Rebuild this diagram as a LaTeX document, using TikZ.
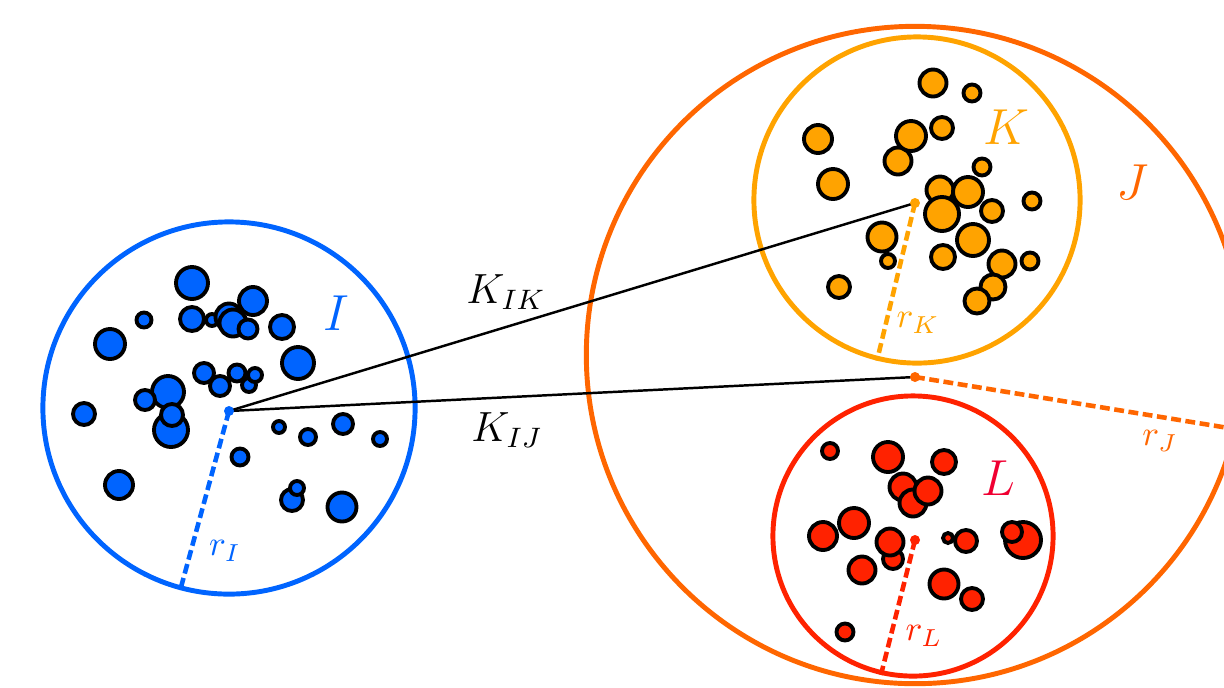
\documentclass[tikz,border=0pt]{standalone}
\usepackage{amsmath}
\usepackage{tikz}
\usetikzlibrary{positioning}
\definecolor{clusterblue}  {RGB}{0, 100, 255}
\definecolor{clusteramber} {RGB}{255, 163, 0}
\definecolor{clusterorange}{RGB}{255, 102, 0}
\definecolor{clusterred}   {RGB}{255, 34, 0}
\definecolor{clustercrimson}{RGB}{240, 0, 50}
\tikzset{
	cluster/.style={circle, line width=1.4pt, inner sep=0pt},
	grain/.style={draw=black, line width=1.1pt},
	cdot/.style={circle, inner sep=0pt, minimum size=0.08cm},
	radius line/.style={line width=1.3pt, dash pattern=on 2.8pt off 1.3pt},
	link/.style={line width=0.7pt, black}
}

\begin{document}
\begin{tikzpicture}[x=0.01cm, y=-0.01cm]
	\useasboundingbox (0,0) rectangle (1224,687);
	\node[cluster, draw=clusterblue, minimum size=3.72cm] (I) at (229,408) {};
	\node[cluster, draw=clusterorange, minimum size=6.57cm] (J) at (915,355) {};
	\node[cluster, draw=clusteramber, minimum size=3.26cm] (K) at (917,200) {};
	\node[cluster, draw=clusterred, minimum size=2.80cm] (L) at (913,536) {};
	\foreach \x/\y/\r in {192/283/16, 144/320/7.5, 110/344/15, 192/319/12, 212/320/6,
		229/317/13.5, 233/323/13.5, 253/301/14, 248/329/9.5, 282/327/12, 298/363/16,
		204/373/10, 237/373/8.5, 220/386/10, 249/385/7, 255/375/7, 168/392/16,
		145/400/10, 171/430/17, 172/415/11, 84/414/11, 279/427/6, 308/437/8,
		343/424/10, 380/439/7, 240/457/8.5, 119/485/14, 292/500/11, 297/488/7,
		342/507/14.5}
		\draw[grain, fill=clusterblue] (\x,\y) circle (\r);
	\foreach \x/\y/\r in {933/83/13.5, 972/93/8.5, 818/139/14, 898/161/13.5,
		911/136/15, 942/128/11, 833/184/15, 982/167/8.5, 940/190/13.5, 968/192/15,
		942/214/17, 992/211/11, 1032/201/8.5, 888/261/7, 882/237/14.5, 973/240/16,
		943/257/12, 1002/264/13.5, 1030/261/8.5, 993/287/12.5, 977/301/12.5,
		839/287/11}
		\draw[grain, fill=clusteramber] (\x,\y) circle (\r);
	\foreach \x/\y/\r in {830/451/8, 888/457/15, 944/462/12, 903/487/13.5,
		913/503/13.5, 928/491/13.5, 854/523/15, 823/536/14, 893/559/10, 890/542/13.5,
		862/570/13.5, 948/538/5, 966/541/11, 1023/540/18, 1012/532/10, 944/584/14.5,
		972/599/11, 845/632/8.5}
		\draw[grain, fill=clusterred] (\x,\y) circle (\r);
	\node[cdot] (cI) at (229,411) {};
	\node[cdot] (cK) at (915,203) {};
	\node[cdot] (cJ) at (915,377) {};
	\node[cdot] (cL) at (915,540) {};
	\draw[link] (cI.center) -- (cK.center);
	\draw[link] (cI.center) -- (cJ.center);
	\draw[radius line, clusterblue] (cI.center) -- (I.-105);
	\draw[radius line, clusteramber] (cK.center) -- (K.-104);
	\draw[radius line, clusterorange] (cJ.center) -- (J.-13);
	\draw[radius line, clusterred] (cL.center) -- (L.-103);
	\fill[clusterblue] (cI) circle (5);
	\fill[clusteramber] (cK) circle (5);
	\fill[clusterorange] (cJ) circle (5);
	\fill[clusterred] (cL) circle (5);
	\node[clusterblue] (labI) at (336,313) {\Large $I$};
	\node[clusteramber] (labK) at (1006,127) {\Large $K$};
	\node[clusterorange] (labJ) at (1133,182) {\Large $J$};
	\node[clustercrimson] (labL) at (998,478) {\Large $L$};
	\node (labKIK) at (506,292) {\large $K_{IK}$};
	\node (labKIJ) at (507,430) {\large $K_{IJ}$};
	\node[clusterblue] (labrI) at (225,551) {$r_I$};
	\node[clusteramber] (labrK) at (918,323) {$r_K$};
	\node[clusterorange] (labrJ) at (1160,441) {$r_J$};
	\node[clusterred] (labrL) at (924,636) {$r_L$};
\end{tikzpicture}
\end{document}
